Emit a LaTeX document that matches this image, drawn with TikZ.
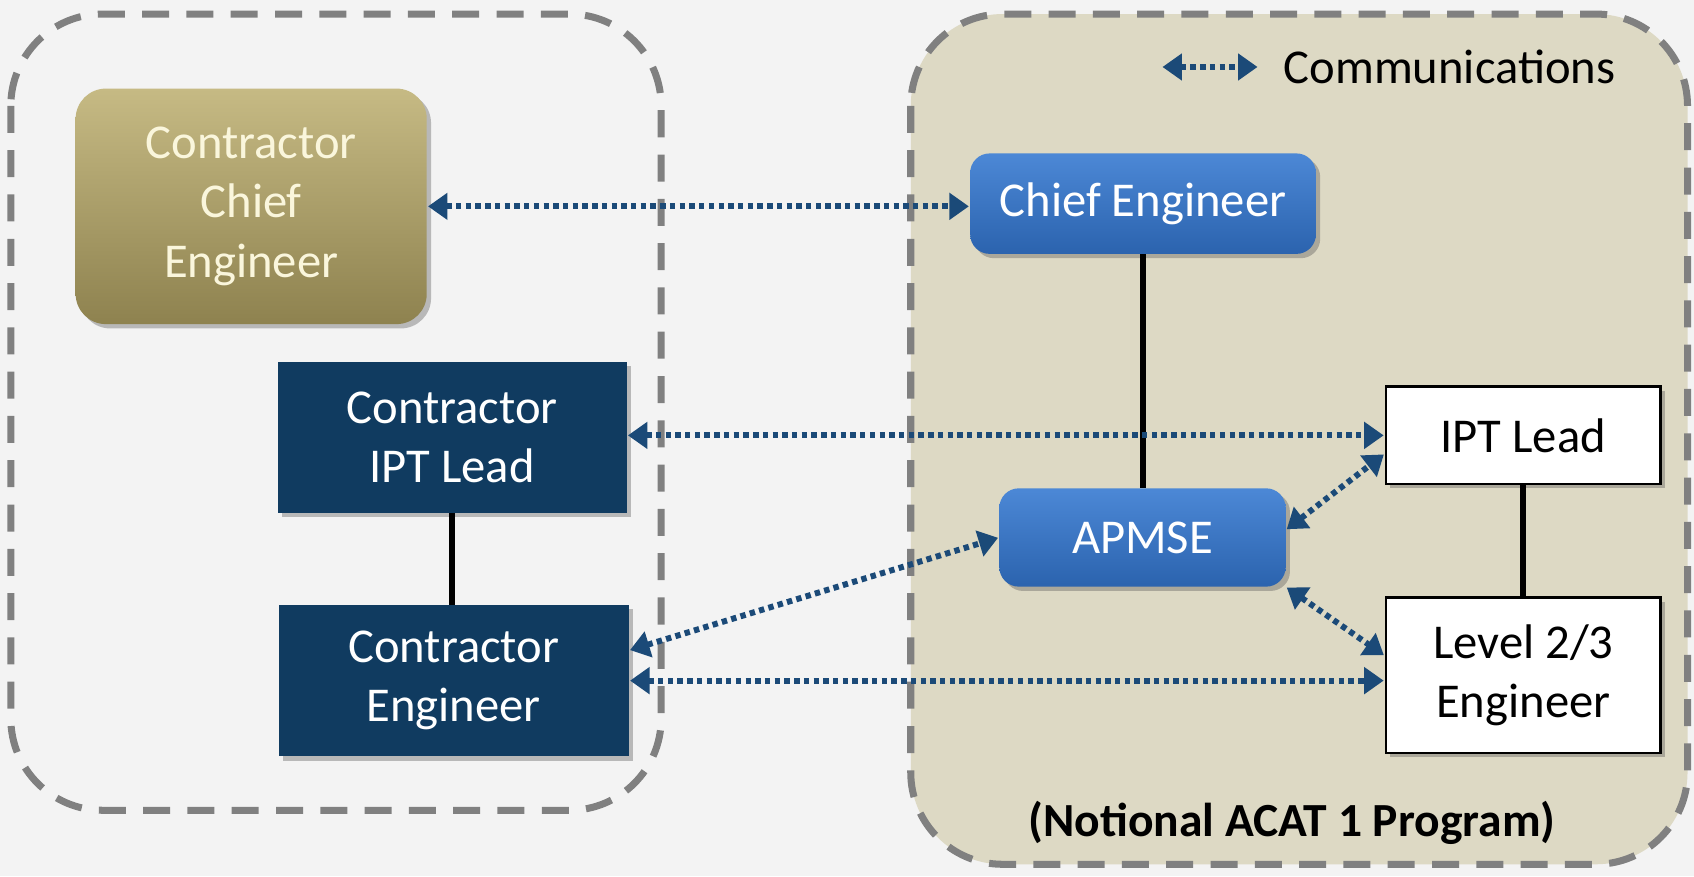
\documentclass[tikz,border=0pt]{standalone}
\usepackage{fontspec}
\setmainfont{Carlito}
\usetikzlibrary{arrows.meta,shadows}
\definecolor{bgc}{HTML}{F3F3F3}
\definecolor{beige}{HTML}{DDD9C4}
\definecolor{dashgray}{HTML}{808080}
\definecolor{navy}{HTML}{103B60}
\definecolor{arrowblue}{HTML}{1B4A78}
\definecolor{oliveTop}{HTML}{C6BA84}
\definecolor{oliveBot}{HTML}{8E824F}
\definecolor{blueTop}{HTML}{4C88D6}
\definecolor{blueBot}{HTML}{2B63AE}
\definecolor{cream}{HTML}{FAF6DC}
\tikzset{
  container/.style={draw=dashgray, line width=6.5pt, dash pattern=on 25pt off 16pt, rounded corners=85pt},
  txt/.style={font=\fontsize{45}{55}\selectfont, align=center, inner sep=0pt},
  shad/.style={drop shadow={shadow xshift=4pt, shadow yshift=-4pt, opacity=0.35, fill=black!70}},
  olivebox/.style={txt, shad, rounded corners=28pt, top color=oliveTop, bottom color=oliveBot, draw=none, text=cream},
  bluebox/.style={txt, shad, rounded corners=18pt, top color=blueTop, bottom color=blueBot, draw=none, text=white},
  navybox/.style={txt, shad, fill=navy, text=white},
  whitebox/.style={txt, shad, fill=white, draw=black, line width=2.5pt, text=black},
  comm/.style={draw=arrowblue, line width=5.5pt, dash pattern=on 5pt off 4pt,
    {Triangle[length=18pt,width=24pt]}-{Triangle[length=18pt,width=24pt]}, shorten <=1pt, shorten >=1pt},
  solidline/.style={draw=black, line width=5.5pt}
}
\begin{document}
\begin{tikzpicture}[x=1pt,y=-1pt]
\fill[bgc] (0,0) rectangle (1568,811);
\useasboundingbox (0,0) rectangle (1568,811);
% containers
\fill[beige, rounded corners=85pt] (843,13) rectangle (1562,800);
\draw[container] (843,13) rectangle (1562,800);
\draw[container] (10,13) rectangle (612,750);
% nodes
\node[olivebox, minimum width=325pt, minimum height=218pt] (cce) at (232.5,191) {Contractor\\Chief\\Engineer};
\node[bluebox, minimum width=320pt, minimum height=93pt] (ce) at (1058,188.5) {Chief Engineer};
\node[bluebox, minimum width=265pt, minimum height=91pt] (apmse) at (1057.5,497.5) {APMSE};
\node[navybox, minimum width=323pt, minimum height=140pt] (cipt) at (418.5,405) {Contractor\\IPT Lead};
\node[navybox, minimum width=324pt, minimum height=140pt] (ceng) at (420,630) {Contractor\\Engineer};
\node[whitebox, minimum width=254pt, minimum height=90pt] (ipt) at (1410,403) {IPT Lead};
\node[whitebox, minimum width=254pt, minimum height=144pt] (lvl) at (1410,625) {Level 2/3\\Engineer};
% legend
\coordinate (l1) at (1075,62);
\coordinate (l2) at (1165,62);
\draw[comm] (l1) -- (l2);
\node[txt, anchor=west] (leg) at (1188,62) {Communications};
\node[txt, font=\fontsize{44}{52}\selectfont\bfseries] (note) at (1196,762) {(Notional ACAT 1 Program)};
% solid lines
\draw[solidline] (ce.south) -- (ce.south |- apmse.north);
\draw[solidline] (cipt.south) -- (cipt.south |- ceng.north);
\draw[solidline] (ipt.south) -- (ipt.south |- lvl.north);
% communications
\draw[comm] (cce.east) -- (cce.east -| ce.west);
\draw[comm] (cipt.east |- ipt.west) -- (ipt.west);
\draw[comm] (ceng.east) -- (ceng.east -| lvl.west);
\draw[comm] ([yshift=28pt]ceng.east) -- (apmse.west);
\draw[comm] ([yshift=7pt]apmse.east) -- ([yshift=-17pt]ipt.west);
\draw[comm] (apmse.south east) -- ([yshift=18pt]lvl.west);
\end{tikzpicture}
\end{document}
